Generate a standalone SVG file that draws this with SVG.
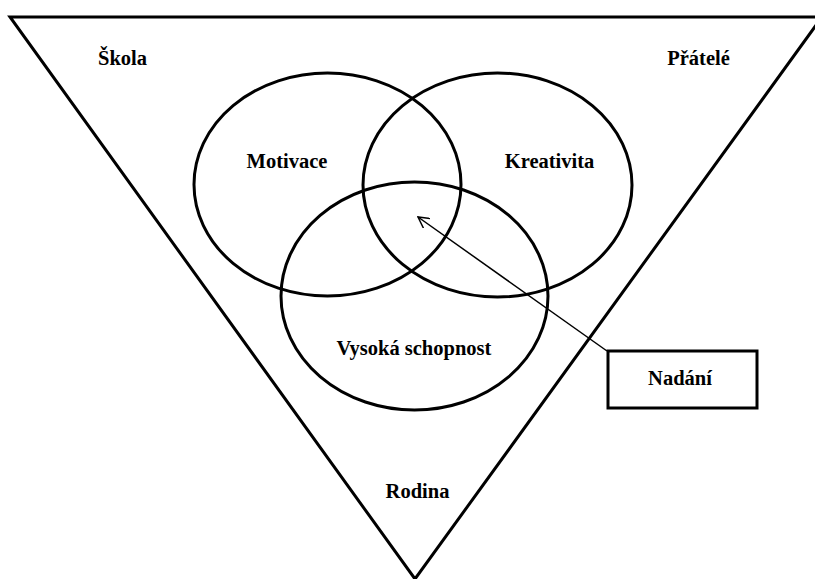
<svg xmlns="http://www.w3.org/2000/svg" width="815" height="579" viewBox="0 0 815 579">
<style>
.ln{fill:none;stroke:#000;stroke-width:3}
.t{font-family:"Liberation Serif","Times New Roman",serif;font-weight:bold;font-size:20.5px;text-anchor:middle;fill:#000}
</style>
<defs>
<marker id="ah" viewBox="0 0 12 12" refX="11" refY="6" markerWidth="12" markerHeight="12" markerUnits="userSpaceOnUse" orient="auto">
<path d="M0,0 L11,6 L0,12" fill="none" stroke="#000" stroke-width="1.5"/>
</marker>
</defs>
<rect width="815" height="579" fill="#fff"/>
<g id="triangle"><polygon class="ln" points="10,17 822,17 415,579"/></g>
<g id="motivace"><ellipse class="ln" cx="327.5" cy="184.5" rx="133.5" ry="111.5"/><text class="t" x="287" y="168">Motivace</text></g>
<g id="kreativita"><ellipse class="ln" cx="497.5" cy="185" rx="134.5" ry="112"/><text class="t" x="549.5" y="168">Kreativita</text></g>
<g id="vysoka"><ellipse class="ln" cx="414.5" cy="296" rx="133.5" ry="114"/><text class="t" x="414" y="355">Vysoká schopnost</text></g>
<g id="skola"><text class="t" x="122.5" y="65">Škola</text></g>
<g id="pratele"><text class="t" x="698.5" y="65">Přátelé</text></g>
<g id="rodina"><text class="t" x="417.5" y="498">Rodina</text></g>
<g id="nadani"><rect class="ln" x="608" y="351" width="149" height="57"/><text class="t" x="680" y="385">Nadání</text></g>
<g id="connectors"><line x1="607" y1="351" x2="418" y2="217" stroke="#000" stroke-width="1.5" marker-end="url(#ah)"/></g>
</svg>
